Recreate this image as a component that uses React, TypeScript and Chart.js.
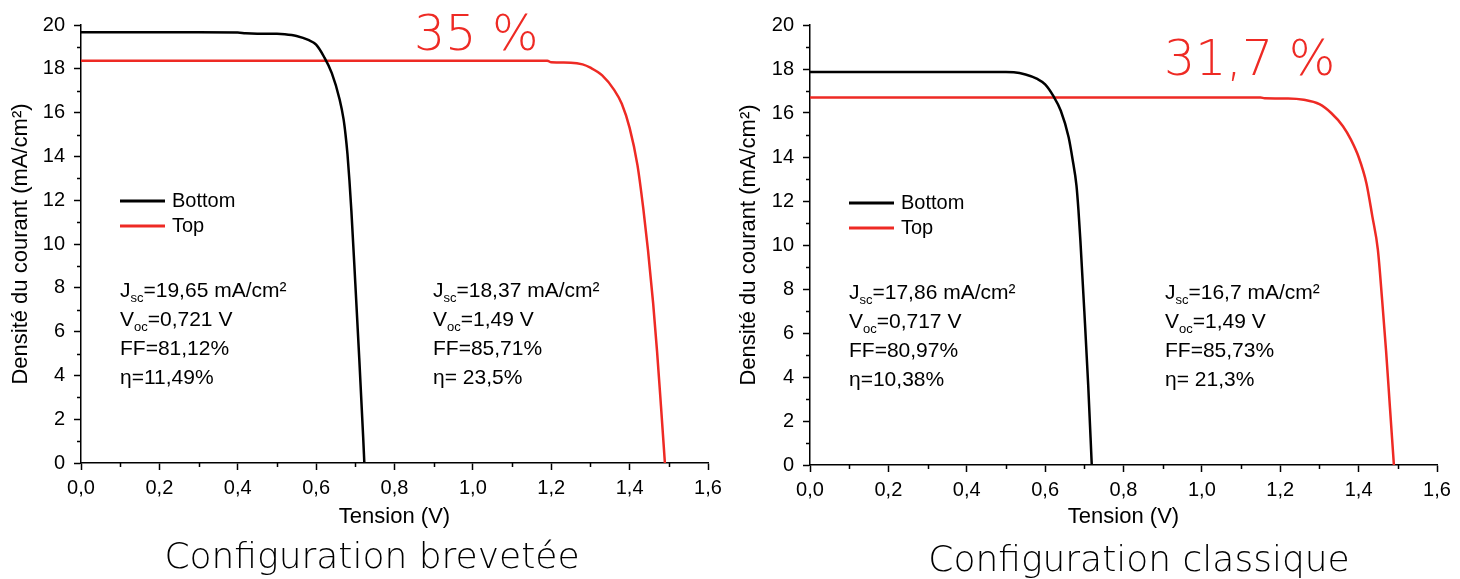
import React, { useEffect, useRef } from "react";
import { Chart, registerables } from "chart.js";

Chart.register(...registerables);

// ---------- Axis ticks ----------
const xTickValues = [0, 0.2, 0.4, 0.6, 0.8, 1.0, 1.2, 1.4, 1.6];
const xTickLabels = ["0,0", "0,2", "0,4", "0,6", "0,8", "1,0", "1,2", "1,4", "1,6"];
const xMinorValues = [0.1, 0.3, 0.5, 0.7, 0.9, 1.1, 1.3, 1.5];
const yTickValues = [0, 2, 4, 6, 8, 10, 12, 14, 16, 18, 20];
const yTickLabels = ["0", "2", "4", "6", "8", "10", "12", "14", "16", "18", "20"];
const yMinorValues = [1, 3, 5, 7, 9, 11, 13, 15, 17, 19];

const xAxisTitle = "Tension (V)";
const yAxisTitle = "Densité du courant (mA/cm²)";
const seriesLabels = ["Bottom", "Top"];
const statNames = [["J", "sc"], ["V", "oc"], ["FF", ""], ["η", ""]];

// ---------- Configuration brevetée ----------
const brevBottomV = [0, 0.1, 0.2, 0.3, 0.4, 0.42, 0.45, 0.5, 0.52, 0.55, 0.58, 0.6, 0.62, 0.64, 0.66, 0.67, 0.675, 0.68, 0.685, 0.69, 0.7, 0.71, 0.72, 0.723];
const brevBottomJ = [19.67, 19.67, 19.67, 19.67, 19.66, 19.62, 19.6, 19.6, 19.58, 19.5, 19.32, 19.1, 18.55, 17.8, 16.6, 15.7, 15.0, 14.1, 12.9, 11.5, 8.2, 4.8, 1.2, 0];
const brevTopV = [0, 0.5, 1.0, 1.19, 1.2, 1.25, 1.28, 1.3, 1.33, 1.36, 1.38, 1.4, 1.42, 1.435, 1.447, 1.46, 1.47, 1.48, 1.49];
const brevTopJ = [18.37, 18.37, 18.37, 18.37, 18.3, 18.28, 18.2, 18.05, 17.7, 17.05, 16.4, 15.3, 13.6, 11.6, 9.7, 7.3, 5.1, 2.6, 0];
const brevBottomStats = ["=19,65 mA/cm²", "=0,721 V", "=81,12%", "=11,49%"];
const brevTopStats = ["=18,37 mA/cm²", "=1,49 V", "=85,71%", "= 23,5%"];
const brevGain = "35 %";
const brevCaption = "Configuration brevetée";

// ---------- Configuration classique ----------
const classBottomV = [0, 0.1, 0.2, 0.3, 0.4, 0.5, 0.52, 0.55, 0.58, 0.6, 0.62, 0.64, 0.66, 0.67, 0.68, 0.685, 0.69, 0.7, 0.71, 0.719];
const classBottomJ = [17.86, 17.86, 17.86, 17.86, 17.86, 17.86, 17.85, 17.75, 17.55, 17.3, 16.8, 16.1, 14.9, 13.9, 12.7, 11.6, 10.2, 7.0, 3.6, 0];
const classTopV = [0, 0.5, 1.0, 1.15, 1.16, 1.22, 1.26, 1.3, 1.33, 1.36, 1.38, 1.4, 1.42, 1.435, 1.449, 1.46, 1.47, 1.48, 1.49];
const classTopJ = [16.71, 16.71, 16.71, 16.71, 16.67, 16.66, 16.6, 16.4, 16.0, 15.4, 14.8, 14.0, 12.8, 11.3, 9.8, 7.5, 5.2, 2.6, 0];
const classBottomStats = ["=17,86 mA/cm²", "=0,717 V", "=80,97%", "=10,38%"];
const classTopStats = ["=16,7 mA/cm²", "=1,49 V", "=85,73%", "= 21,3%"];
const classGain = "31,7 %";
const classCaption = "Configuration classique";

const W = 730;
const H = 579;
const BLACK = "#000000";
const RED = "#ee2a24";
const SANS = "'Liberation Sans', Arial, sans-serif";
const DISPLAY = "'DejaVu Sans', sans-serif";

type Panel = {
  bottomV: number[]; bottomJ: number[]; topV: number[]; topJ: number[];
  bottomStats: string[]; topStats: string[]; gain: string; caption: string;
  plotLeft: number; plotRight: number; plotTop: number; plotBottom: number;
  yTitlePad: number;
  legendX: number; legendY: number;
  statsLeftX: number; statsRightX: number; statsY: number;
  gainX: number; gainY: number; captionX: number; captionY: number;
};

const panels: Panel[] = [
  {
    bottomV: brevBottomV, bottomJ: brevBottomJ, topV: brevTopV, topJ: brevTopJ,
    bottomStats: brevBottomStats, topStats: brevTopStats, gain: brevGain, caption: brevCaption,
    plotLeft: 81, plotRight: 708, plotTop: 25, plotBottom: 463, yTitlePad: 8,
    legendX: 120, legendY: 201,
    statsLeftX: 120, statsRightX: 433, statsY: 297,
    gainX: 414, gainY: 50, captionX: 372, captionY: 568,
  },
  {
    bottomV: classBottomV, bottomJ: classBottomJ, topV: classTopV, topJ: classTopJ,
    bottomStats: classBottomStats, topStats: classTopStats, gain: classGain, caption: classCaption,
    plotLeft: 80, plotRight: 707, plotTop: 25, plotBottom: 465, yTitlePad: 6,
    legendX: 119, legendY: 203,
    statsLeftX: 119, statsRightX: 435, statsY: 299,
    gainX: 434, gainY: 75, captionX: 409, captionY: 571,
  },
];

function drawStats(ctx: CanvasRenderingContext2D, x: number, y0: number, values: string[]) {
  const step = 29;
  ctx.fillStyle = BLACK;
  ctx.textAlign = "left";
  ctx.textBaseline = "alphabetic";
  values.forEach((val, i) => {
    const y = y0 + i * step;
    const [main, sub] = statNames[i];
    let cx = x;
    ctx.font = `21px ${SANS}`;
    ctx.fillText(main, cx, y);
    cx += ctx.measureText(main).width;
    if (sub) {
      ctx.font = `13px ${SANS}`;
      ctx.fillText(sub, cx, y + 5);
      cx += ctx.measureText(sub).width;
    }
    ctx.font = `21px ${SANS}`;
    ctx.fillText(val, cx, y);
  });
}

function makePlugin(p: Panel) {
  return {
    id: "decor",
    afterDraw(chart: any) {
      const ctx: CanvasRenderingContext2D = chart.ctx;
      const xs = chart.scales.x;
      const ys = chart.scales.y;
      const area = chart.chartArea;
      ctx.save();
      // minor ticks
      ctx.strokeStyle = BLACK;
      ctx.lineWidth = 1.5;
      ctx.beginPath();
      xMinorValues.forEach((v) => {
        const px = Math.round(xs.getPixelForValue(v)) + 0.5;
        ctx.moveTo(px, area.bottom);
        ctx.lineTo(px, area.bottom + 4);
      });
      yMinorValues.forEach((v) => {
        const py = Math.round(ys.getPixelForValue(v)) + 0.5;
        ctx.moveTo(area.left - 4, py);
        ctx.lineTo(area.left, py);
      });
      ctx.stroke();

      // legend
      chart.data.datasets.forEach((ds: any, i: number) => {
        const y = p.legendY + i * 25;
        ctx.strokeStyle = ds.borderColor;
        ctx.lineWidth = 3;
        ctx.beginPath();
        ctx.moveTo(p.legendX, y);
        ctx.lineTo(p.legendX + 45, y);
        ctx.stroke();
        ctx.fillStyle = BLACK;
        ctx.font = `20px ${SANS}`;
        ctx.textAlign = "left";
        ctx.textBaseline = "middle";
        ctx.fillText(ds.label, p.legendX + 52, y);
      });

      // stats
      drawStats(ctx, p.statsLeftX, p.statsY, p.bottomStats);
      drawStats(ctx, p.statsRightX, p.statsY, p.topStats);

      // gain
      ctx.fillStyle = RED;
      ctx.font = `300 49px ${DISPLAY}`;
      ctx.textAlign = "left";
      ctx.textBaseline = "alphabetic";
      ctx.fillText(p.gain, p.gainX, p.gainY);

      // caption
      ctx.fillStyle = BLACK;
      ctx.font = `300 36px ${DISPLAY}`;
      ctx.textAlign = "center";
      ctx.fillText(p.caption, p.captionX, p.captionY);
      ctx.restore();
    },
  };
}

function makeConfig(p: Panel): any {
  const tickFont = { family: SANS, size: 20 };
  const titleFont = { family: SANS, size: 22 };
  return {
    type: "line",
    data: {
      datasets: [
        {
          label: seriesLabels[0],
          data: p.bottomV.map((v, i) => ({ x: v, y: p.bottomJ[i] })),
          borderColor: BLACK,
          borderWidth: 2.5,
          pointRadius: 0,
          cubicInterpolationMode: "monotone",
          fill: false,
        },
        {
          label: seriesLabels[1],
          data: p.topV.map((v, i) => ({ x: v, y: p.topJ[i] })),
          borderColor: RED,
          borderWidth: 2.5,
          pointRadius: 0,
          cubicInterpolationMode: "monotone",
          fill: false,
        },
      ],
    },
    options: {
      animation: false,
      responsive: false,
      devicePixelRatio: 1,
      layout: { padding: { left: 0, top: p.plotTop, right: W - p.plotRight, bottom: 0 } },
      plugins: { legend: { display: false }, tooltip: { enabled: false }, title: { display: false } },
      scales: {
        x: {
          type: "linear",
          min: 0,
          max: 1.6,
          afterBuildTicks: (s: any) => { s.ticks = xTickValues.map((v) => ({ value: v })); },
          afterFit: (s: any) => { s.height = H - p.plotBottom; },
          ticks: {
            callback: (_v: any, i: number) => xTickLabels[i],
            font: tickFont, color: BLACK, padding: 6, maxRotation: 0, autoSkip: false,
          },
          grid: { drawOnChartArea: false, drawTicks: true, tickLength: 7, tickWidth: 1.5, tickColor: BLACK },
          border: { display: true, color: BLACK, width: 1.5 },
          title: { display: true, text: xAxisTitle, font: titleFont, color: BLACK, padding: { top: 0, bottom: 49 } },
        },
        y: {
          type: "linear",
          min: 0,
          max: 20,
          afterBuildTicks: (s: any) => { s.ticks = yTickValues.map((v) => ({ value: v })); },
          afterFit: (s: any) => { s.width = p.plotLeft; },
          ticks: {
            callback: (_v: any, i: number) => yTickLabels[i],
            font: tickFont, color: BLACK, padding: 9, autoSkip: false,
          },
          grid: { drawOnChartArea: false, drawTicks: true, tickLength: 7, tickWidth: 1.5, tickColor: BLACK },
          border: { display: true, color: BLACK, width: 1.5 },
          title: { display: true, text: yAxisTitle, font: titleFont, color: BLACK, padding: { top: p.yTitlePad, bottom: 0 } },
        },
      },
    },
    plugins: [makePlugin(p)],
  };
}

function PanelChart({ panel, left }: { panel: Panel; left: number }) {
  const ref = useRef<HTMLCanvasElement | null>(null);
  useEffect(() => {
    if (!ref.current) return;
    const chart = new Chart(ref.current, makeConfig(panel));
    return () => chart.destroy();
  }, [panel]);
  return (
    <canvas
      ref={ref}
      width={W}
      height={H}
      style={{ position: "absolute", left, top: 0, width: W, height: H }}
    />
  );
}

export default function App() {
  return (
    <div style={{ position: "absolute", left: 0, top: 0, width: 1460, height: 579, background: "#ffffff", overflow: "hidden" }}>
      <PanelChart panel={panels[0]} left={0} />
      <PanelChart panel={panels[1]} left={730} />
    </div>
  );
}
